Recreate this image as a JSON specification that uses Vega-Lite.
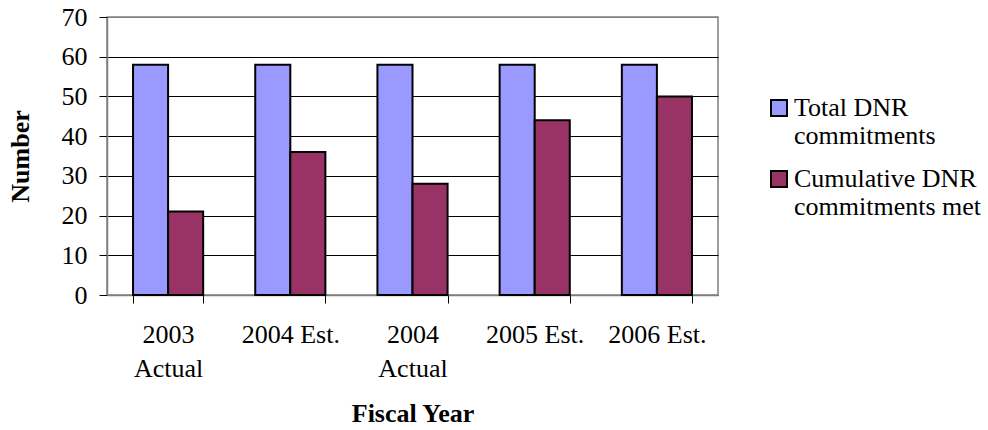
{
  "$schema": "https://vega.github.io/schema/vega-lite/v6.json",
  "width": 611,
  "height": 278,
  "autosize": {"type": "none"},
  "padding": {"left": 107, "top": 17, "right": 270, "bottom": 135},
  "background": "white",
  "config": {
    "font": "Liberation Serif",
    "view": {"stroke": "#808080", "strokeWidth": 1.5},
    "axis": {"labelFont": "Liberation Serif", "titleFont": "Liberation Serif", "labelColor": "black", "titleColor": "black"},
    "legend": {"labelFont": "Liberation Serif"}
  },
  "data": {
    "values": [
      {"year": "2003 Actual", "series": "Total DNR commitments", "value": 58},
      {"year": "2003 Actual", "series": "Cumulative DNR commitments met", "value": 21},
      {"year": "2004 Est.", "series": "Total DNR commitments", "value": 58},
      {"year": "2004 Est.", "series": "Cumulative DNR commitments met", "value": 36},
      {"year": "2004 Actual", "series": "Total DNR commitments", "value": 58},
      {"year": "2004 Actual", "series": "Cumulative DNR commitments met", "value": 28},
      {"year": "2005 Est.", "series": "Total DNR commitments", "value": 58},
      {"year": "2005 Est.", "series": "Cumulative DNR commitments met", "value": 44},
      {"year": "2006 Est.", "series": "Total DNR commitments", "value": 58},
      {"year": "2006 Est.", "series": "Cumulative DNR commitments met", "value": 50}
    ]
  },
  "mark": {"type": "bar", "stroke": "black", "strokeWidth": 2},
  "encoding": {
    "x": {
      "field": "year",
      "type": "nominal",
      "sort": ["2003 Actual", "2004 Est.", "2004 Actual", "2005 Est.", "2006 Est."],
      "scale": {"paddingInner": 0.426, "paddingOuter": 0.213},
      "axis": {
        "title": "Fiscal Year",
        "titleFontSize": 26,
        "titleFontWeight": "bold",
        "titleBaseline": "middle",
        "titleY": 118,
        "labelAngle": 0,
        "labelFontSize": 26,
        "labelLineHeight": 34,
        "labelPadding": 18,
        "labelExpr": "indexof(datum.label, 'Actual') > 0 ? split(datum.label, ' ') : datum.label",
        "tickBand": "extent",
        "tickSize": 8,
        "tickColor": "black",
        "domainColor": "#808080",
        "domainWidth": 1.5,
        "grid": false
      }
    },
    "xOffset": {
      "field": "series",
      "type": "nominal",
      "sort": ["Total DNR commitments", "Cumulative DNR commitments met"],
      "scale": {"paddingInner": 0, "paddingOuter": 0}
    },
    "y": {
      "field": "value",
      "type": "quantitative",
      "scale": {"domain": [0, 70], "nice": false},
      "axis": {
        "title": "Number",
        "titleFontSize": 26,
        "titleFontWeight": "bold",
        "titleBaseline": "middle",
        "titleAngle": -90,
        "titleX": -87,
        "titleY": 139,
        "values": [0, 10, 20, 30, 40, 50, 60, 70],
        "labelFontSize": 26,
        "labelPadding": 12,
        "tickSize": 8,
        "tickColor": "black",
        "domainColor": "#808080",
        "domainWidth": 1.5,
        "grid": true,
        "gridColor": {"condition": {"test": "datum.value === 70", "value": "#808080"}, "value": "black"},
        "gridWidth": 1
      }
    },
    "color": {
      "field": "series",
      "type": "nominal",
      "sort": ["Total DNR commitments", "Cumulative DNR commitments met"],
      "scale": {"domain": ["Total DNR commitments", "Cumulative DNR commitments met"], "range": ["#9999FF", "#993366"]},
      "legend": {
        "title": null,
        "orient": "none",
        "legendX": 659,
        "legendY": 78,
        "padding": 0,
        "symbolType": "square",
        "symbolSize": 256,
        "symbolStrokeColor": "black",
        "symbolStrokeWidth": 2,
        "symbolOpacity": 1,
        "labelFontSize": 26,
        "labelLineHeight": 30,
        "labelLimit": 400,
        "labelOffset": 2,
        "rowPadding": 17,
        "labelExpr": "datum.label === 'Total DNR commitments' ? ['Total DNR', 'commitments'] : ['Cumulative DNR', 'commitments met']",
        "labelBaseline": "middle"
      }
    }
  }
}
